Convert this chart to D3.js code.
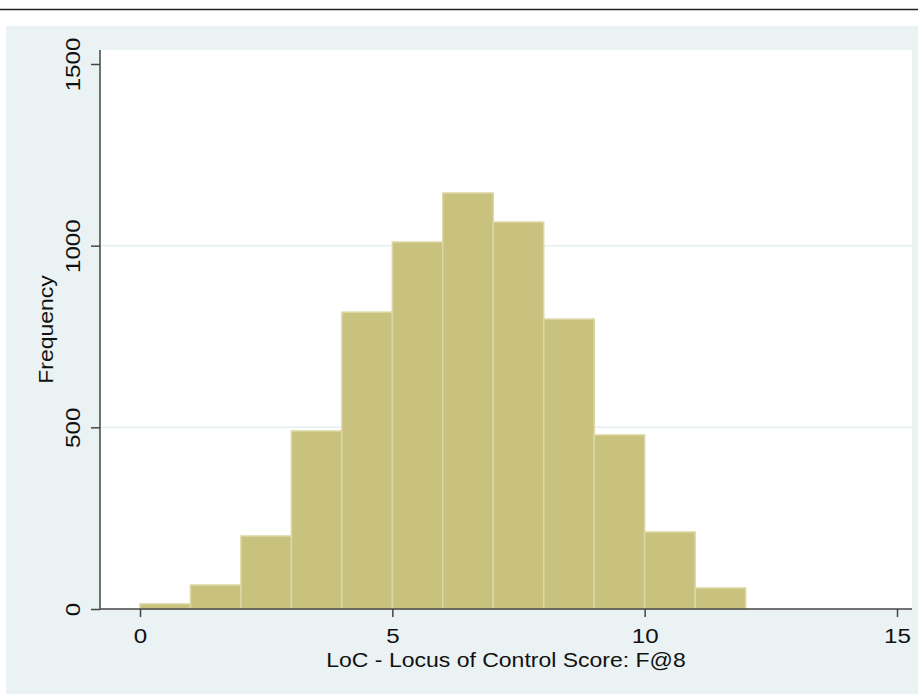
<!DOCTYPE html>
<html>
<head>
<meta charset="utf-8">
<script src="https://cdn.jsdelivr.net/npm/d3@7"></script>
<style>
  html, body { margin: 0; padding: 0; background: #fff; }
  svg { display: block; }
  text { font-family: 'Liberation Sans', Arial, Helvetica, sans-serif; fill: #111; }
</style>
</head>
<body>
<div id="chart"></div>
<script>
// Histogram of LoC score, bins of width 1
const binStarts = [0, 1, 2, 3, 4, 5, 6, 7, 8, 9, 10, 11];
const frequencies = [14, 66, 201, 490, 817, 1010, 1145, 1065, 798, 479, 212, 58];
const xTicks = [0, 5, 10, 15];
const yTicks = [0, 500, 1000, 1500];
const xTitle = 'LoC - Locus of Control Score: F@8';
const yTitle = 'Frequency';

const width = 918;
const height = 694;
const plot = { left: 100, right: 912, top: 50, bottom: 609 };
const STRETCH = 1.15; // glyphs in the picture are wider than Arial

const svg = d3.select('#chart').append('svg').attr('width', width).attr('height', height);

// top rule and outer panel
svg.append('line')
  .attr('x1', 0).attr('x2', width).attr('y1', 9.5).attr('y2', 9.5)
  .attr('stroke', '#222').attr('stroke-width', 1.5);
svg.append('rect')
  .attr('x', 6).attr('y', 26).attr('width', width - 6).attr('height', height - 26)
  .attr('fill', '#eaf2f3');
svg.append('rect')
  .attr('x', plot.left).attr('y', plot.top)
  .attr('width', plot.right - plot.left).attr('height', plot.bottom - plot.top)
  .attr('fill', '#fff');

const x = d3.scaleLinear().domain([0, 15]).range([140, 897]);
const y = d3.scaleLinear().domain([0, 1500]).range([609, 64]);

// gridlines
svg.append('g')
  .selectAll('line')
  .data(yTicks.filter((t) => t > 0 && t < 1500))
  .join('line')
  .attr('x1', plot.left).attr('x2', plot.right)
  .attr('y1', (d) => y(d)).attr('y2', (d) => y(d))
  .attr('stroke', '#e6eff2').attr('stroke-width', 1.5);

// bars
svg.append('g')
  .selectAll('rect')
  .data(binStarts.map((b, i) => ({ b, n: frequencies[i] })))
  .join('rect')
  .attr('x', (d) => x(d.b))
  .attr('width', (d) => x(d.b + 1) - x(d.b))
  .attr('y', (d) => y(d.n))
  .attr('height', (d) => y(0) - y(d.n))
  .attr('fill', '#c9c27f')
  .attr('stroke', '#ddd7a5')
  .attr('stroke-width', 1.5);

// axes
const xAxis = svg.append('g').attr('transform', `translate(0,${plot.bottom})`)
  .call(d3.axisBottom(x).tickValues(xTicks).tickSize(8).tickFormat(d3.format('d')));
xAxis.select('.domain').attr('d', `M${plot.left},0H${plot.right}`);
const yAxis = svg.append('g').attr('transform', `translate(${plot.left},0)`)
  .call(d3.axisLeft(y).tickValues(yTicks).tickSize(9).tickFormat(d3.format('d')));
yAxis.select('.domain').attr('d', `M0,${plot.top}V${plot.bottom}`);

svg.selectAll('.domain, .tick line').attr('stroke', '#444').attr('stroke-width', 1.5);

xAxis.selectAll('.tick text')
  .attr('y', 0).attr('dy', 0)
  .attr('transform', `translate(0,34) scale(${STRETCH},1)`)
  .attr('font-size', 21).attr('fill', '#111');

yAxis.selectAll('.tick text')
  .attr('x', 0).attr('dy', 0)
  .attr('text-anchor', 'middle')
  .attr('transform', `translate(-20,0) rotate(-90) scale(${STRETCH},1)`)
  .attr('font-size', 21).attr('fill', '#111');

// titles
svg.append('text')
  .attr('text-anchor', 'middle')
  .attr('font-size', 20)
  .attr('transform', `translate(${(plot.left + plot.right) / 2},667) scale(${STRETCH},1)`)
  .text(xTitle);

svg.append('text')
  .attr('text-anchor', 'middle')
  .attr('font-size', 20)
  .attr('transform', `translate(53,${(plot.top + plot.bottom) / 2}) rotate(-90) scale(${STRETCH},1)`)
  .text(yTitle);
</script>
</body>
</html>
